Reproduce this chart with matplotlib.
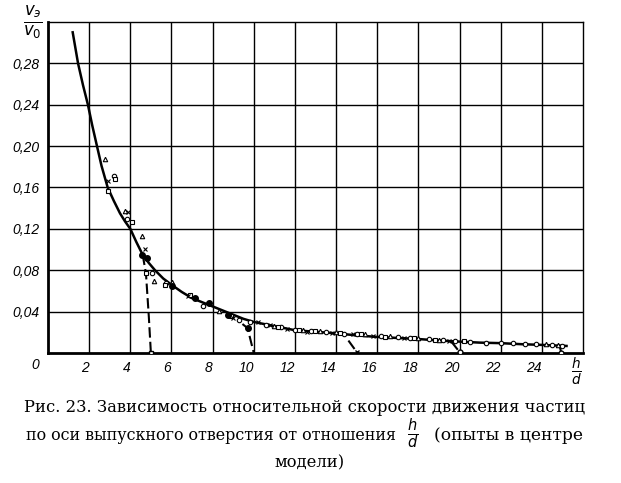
import matplotlib
matplotlib.use("Agg")
import matplotlib.pyplot as plt

# main smooth curve v_e/v_0 vs h/d
curve_x = [1.2, 1.46, 1.7, 1.94, 2.15, 2.38, 2.6, 2.9, 3.2, 3.5, 3.75, 4.0, 4.3, 4.6,
           4.9, 5.2, 5.6, 6.0, 6.5, 7.0, 7.5, 8.0, 8.5, 9.0, 9.5, 10.0, 10.5, 11.0,
           11.5, 12.0, 13.0, 14.0, 15.0, 16.0, 17.0, 18.0, 19.0, 20.0, 21.0, 22.0,
           23.0, 24.0, 25.2]
curve_y = [0.310, 0.280, 0.259, 0.240, 0.220, 0.200, 0.181, 0.160, 0.147, 0.135,
           0.127, 0.120, 0.107, 0.095, 0.087, 0.080, 0.072, 0.066, 0.059, 0.053,
           0.049, 0.045, 0.041, 0.037, 0.033, 0.030, 0.028, 0.026, 0.024, 0.022,
           0.0205, 0.019, 0.017, 0.0155, 0.0145, 0.0135, 0.012, 0.011, 0.010,
           0.0095, 0.0085, 0.0078, 0.0068]

# experimental points, by marker type
circ_x = [3.2, 3.83, 5.05, 5.75, 7.55, 9.3, 9.8, 10.6, 11.3, 12.0, 12.8, 13.5, 14.4,
          15.0, 16.2, 17.0, 17.6, 18.5, 19.2, 19.8, 20.5, 21.3, 22.0, 22.6, 23.2,
          23.7, 24.5, 25.0]
circ_y = [0.171, 0.130, 0.077, 0.068, 0.045, 0.032, 0.030, 0.027, 0.025, 0.022,
          0.021, 0.020, 0.0185, 0.018, 0.016, 0.015, 0.0145, 0.0135, 0.0125, 0.012,
          0.011, 0.010, 0.0095, 0.0092, 0.0088, 0.0085, 0.0078, 0.0072]
tri_x = [2.77, 3.75, 4.55, 5.15, 6.05, 8.3, 11.0, 12.4, 13.2, 14.0, 15.4, 16.6,
         18.0, 19.0, 24.2, 24.8]
tri_y = [0.188, 0.137, 0.113, 0.070, 0.069, 0.041, 0.026, 0.0225, 0.021, 0.020,
         0.018, 0.016, 0.0145, 0.013, 0.0085, 0.008]
cross_x = [2.9, 3.9, 4.7, 6.8, 9.0, 10.2, 10.8, 11.6, 12.6, 13.8, 14.8, 15.8, 17.3, 19.5]
cross_y = [0.166, 0.136, 0.101, 0.055, 0.034, 0.030, 0.027, 0.023, 0.020, 0.019,
           0.018, 0.016, 0.0145, 0.012]
sq_x = [2.9, 3.25, 4.1, 4.76, 5.7, 6.9, 8.9, 11.2, 12.2, 13.0, 14.2, 15.2, 16.4,
        17.8, 18.8, 20.2]
sq_y = [0.157, 0.168, 0.127, 0.077, 0.066, 0.056, 0.036, 0.025, 0.022, 0.021,
        0.019, 0.018, 0.0155, 0.014, 0.013, 0.0115]
fill_x = [4.55, 4.8, 6.05, 7.15, 7.8, 8.75, 9.7]
fill_y = [0.095, 0.092, 0.065, 0.053, 0.048, 0.037, 0.024]

# breakaway branches falling to zero
drops = [
    ([4.6, 4.76, 4.9, 5.0], [0.095, 0.077, 0.035, 0.0], "s"),
    ([9.45, 9.7, 10.0], [0.028, 0.024, 0.0], None),
    ([14.6, 15.0], [0.012, 0.001], "x"),
    ([19.6, 19.8, 20.0], [0.011, 0.006, 0.001], "o"),
    ([24.85, 24.95], [0.0077, 0.0], "o"),
]

xticks = [2, 4, 6, 8, 10, 12, 14, 16, 18, 20, 22, 24]
yticks = [0.04, 0.08, 0.12, 0.16, 0.20, 0.24, 0.28]

tick_font = dict(family=["Liberation Sans Narrow", "Liberation Sans", "DejaVu Sans"],
                 style="italic", size=10)
cap_font = dict(family=["DejaVu Serif"], size=11.75)

fig = plt.figure(figsize=(6.21, 4.83), dpi=100)
ax = fig.add_axes([0.0773, 0.2692, 0.8615, 0.6853])
ax.set_xlim(0, 26)
ax.set_ylim(0, 0.32)

for x in range(2, 26, 2):
    ax.axvline(x, color="black", lw=1.0, zorder=1)
for y in yticks:
    ax.axhline(y, color="black", lw=1.0, zorder=1)

ax.plot(curve_x, curve_y, color="black", lw=1.8, zorder=3)
for dx, dy, m in drops:
    ax.plot(dx, dy, color="black", lw=1.5, ls=(0, (5, 2)), zorder=3)
    if m:
        ax.plot(dx[-1], dy[-1], marker=m, ms=3.5, mfc="white", mec="black",
                mew=1.0, zorder=4, color="black")

mk = dict(ms=3.2, mfc="white", mec="black", mew=0.8, ls="none", zorder=4)
ax.plot(circ_x, circ_y, marker="o", **mk)
ax.plot(tri_x, tri_y, marker="^", **mk)
ax.plot(sq_x, sq_y, marker="s", **mk)
ax.plot(cross_x, cross_y, marker="x", ms=3.2, color="black", mew=0.8, ls="none", zorder=4)
ax.plot(fill_x, fill_y, marker="o", ms=4, color="black", ls="none", zorder=4)

ax.set_xticks(xticks)
ax.set_xticklabels([str(t) for t in xticks], fontdict=tick_font)
ax.set_yticks(yticks)
ax.set_yticklabels([f"{t:.2f}".replace(".", ",") for t in yticks], fontdict=tick_font)
ax.tick_params(length=0, pad=6)
for lbl in ax.get_xticklabels():
    lbl.set_horizontalalignment("right")
ax.text(-0.45, -0.012, "0", ha="right", va="center", **tick_font)

for side in ["left", "bottom"]:
    ax.spines[side].set_linewidth(2.0)
for side in ["top", "right"]:
    ax.spines[side].set_linewidth(1.0)

# axis labels as stacked fractions
fig.text(33 / 621, 1 - 22 / 483, r"$\frac{v_э}{v_0}$", ha="center", va="center",
         fontsize=17)
fig.text(576 / 621, 1 - 372 / 483, r"$\frac{h}{d}$", ha="center", va="center",
         fontsize=14)

# caption
fig.text(304 / 621, 1 - 407 / 483,
         "Рис. 23. Зависимость относительной скорости движения частиц",
         ha="center", va="center", **cap_font)
fig.text(26 / 621, 1 - 436 / 483, "по оси выпускного отверстия от отношения",
         ha="left", va="center", family="DejaVu Serif", size=11.4)
fig.text(413 / 621, 1 - 434 / 483, r"$\frac{h}{d}$", ha="center", va="center",
         fontsize=15)
fig.text(583 / 621, 1 - 436 / 483, "(опыты в центре", ha="right", va="center",
         family="DejaVu Serif", size=12.3)
fig.text(310 / 621, 1 - 463 / 483, "модели)", ha="center", va="center", **cap_font)

fig.savefig("out.png", dpi=100)
